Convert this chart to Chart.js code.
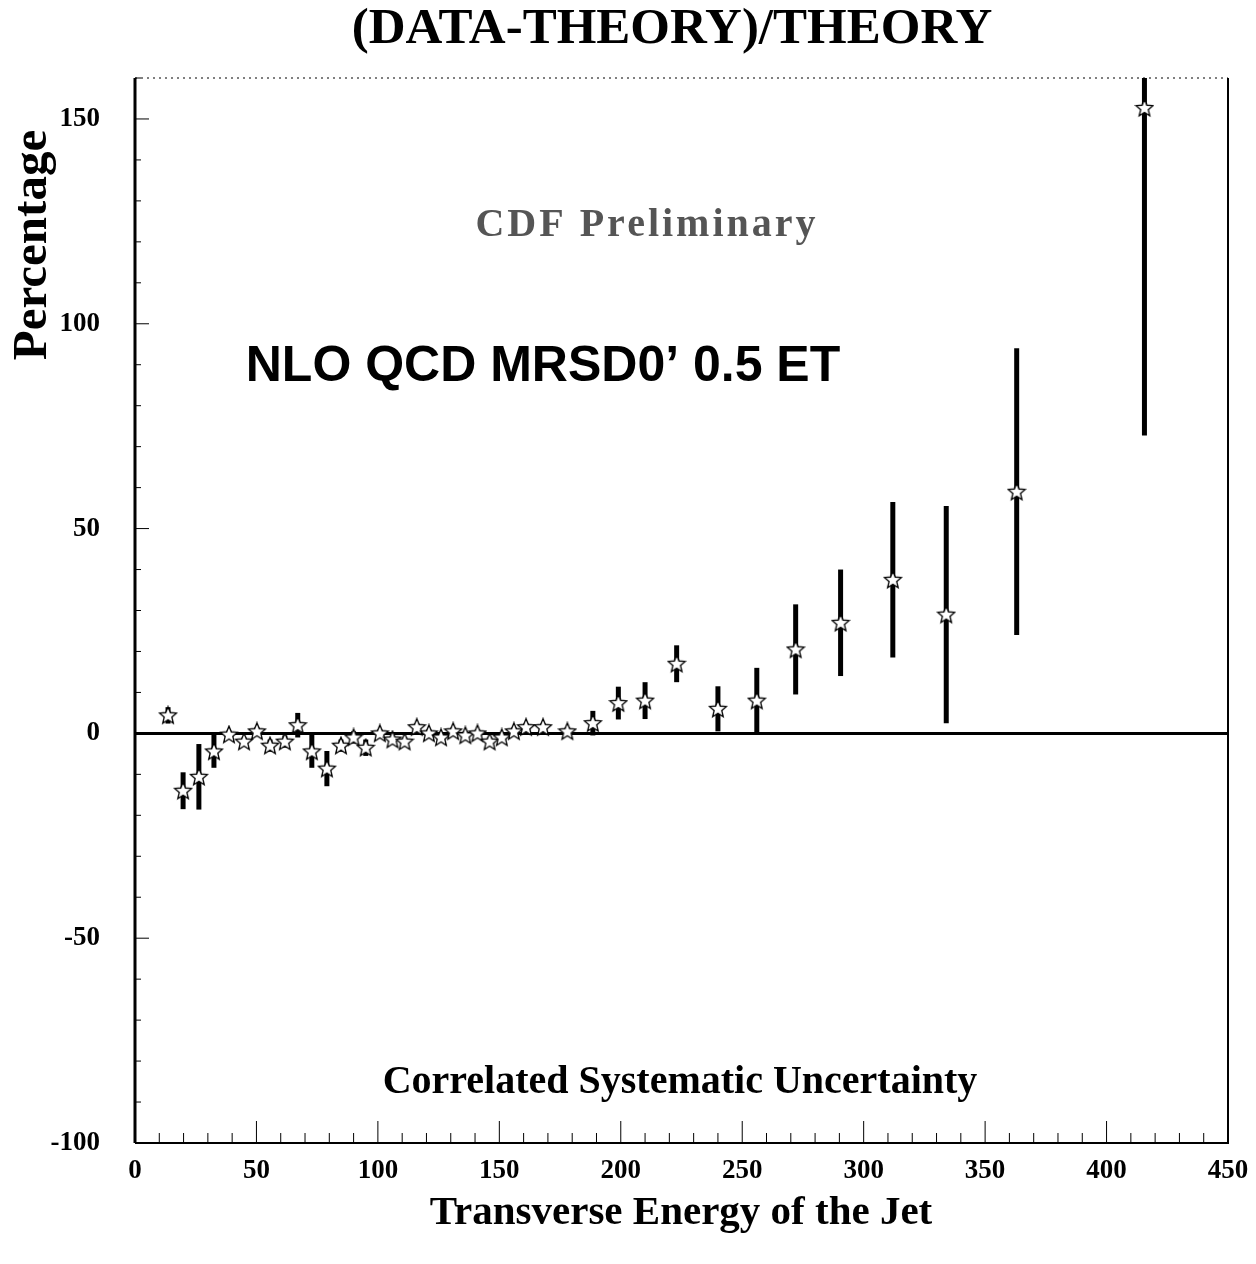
<!DOCTYPE html>
<html>
<head>
<meta charset="utf-8">
<script src="https://cdn.jsdelivr.net/npm/chart.js@4.4.0/dist/chart.umd.min.js"></script>
<style>
  html, body { margin: 0; padding: 0; background: #fff; }
  #wrap { width: 1256px; height: 1264px; }
</style>
</head>
<body>
<div id="wrap"><canvas id="grafico"></canvas></div>
<script>
// Energia transversa do jato (GeV) e desvio percentual (dados-teoria)/teoria
const etValues = [13.6, 19.8, 26.3, 32.5, 38.7, 44.9, 50.2, 55.6, 61.7, 67, 72.8, 79, 84.8, 90, 95,
  100.8, 106, 111, 116, 121, 126, 131, 136, 141, 146, 151, 156, 161, 168, 178,
  188.5, 199, 210, 223, 240, 256, 272, 290.5, 312, 334, 363, 415.6];
const pctValues = [4.4, -14, -10.6, -4.4, -0.3, -2, 0.5, -3, -2, 2, -4.4, -8.6, -3, -1, -3.5,
  0, -1.5, -2, 1.5, 0, -1, 0.5, -0.5, 0, -2, -1, 0.5, 1.5, 1.5, 0.5,
  2.5, 7.4, 8, 17, 6, 8, 20.5, 27, 37.5, 29, 59, 152.7];
const errValues = [2, 4.5, 8, 4, 1, 1, 1, 1.5, 1.5, 3, 4, 4.3, 1.5, 1.5, 2,
  1, 1, 1, 1, 1, 1, 1, 1, 1, 1, 1, 1, 1, 1, 1,
  3, 4, 4.5, 4.5, 5.5, 8, 11, 13, 19, 26.5, 35, 80];

const xTicks = [0, 50, 100, 150, 200, 250, 300, 350, 400, 450];
const yTicks = [-100, -50, 0, 50, 100, 150];

const serif = '"Liberation Serif", "DejaVu Serif", serif';

// Estrela de cinco pontas vazada usada como marcador
function criarEstrela() {
  const c = document.createElement('canvas');
  c.width = 20; c.height = 20;
  const g = c.getContext('2d');
  g.strokeStyle = '#000';
  g.lineWidth = 1.3;
  g.beginPath();
  for (let k = 0; k < 10; k++) {
    const r = k % 2 === 0 ? 9 : 4;
    const ang = -Math.PI / 2 + k * Math.PI / 5;
    const px = 10 + r * Math.cos(ang);
    const py = 10.5 + r * Math.sin(ang);
    if (k === 0) g.moveTo(px, py); else g.lineTo(px, py);
  }
  g.closePath();
  g.fillStyle = '#fff';
  g.fill();
  g.stroke();
  return c;
}

// Barras de erro, linha do zero, moldura e ticks internos
const pluginDesenho = {
  id: 'desenho',
  beforeDatasetsDraw(chart) {
    const { ctx, chartArea: a, scales: { x, y } } = chart;
    ctx.save();
    ctx.beginPath();
    ctx.rect(a.left, a.top, a.right - a.left, a.bottom - a.top);
    ctx.clip();
    // linha do zero
    ctx.strokeStyle = '#000';
    ctx.lineWidth = 3;
    ctx.beginPath();
    ctx.moveTo(a.left, y.getPixelForValue(0));
    ctx.lineTo(a.right, y.getPixelForValue(0));
    ctx.stroke();
    // barras de erro
    ctx.lineWidth = 5;
    etValues.forEach((et, i) => {
      const px = x.getPixelForValue(et);
      const top = y.getPixelForValue(pctValues[i] + errValues[i]);
      const bot = y.getPixelForValue(pctValues[i] - errValues[i]);
      ctx.beginPath();
      ctx.moveTo(px, top);
      ctx.lineTo(px, bot);
      ctx.stroke();
    });
    ctx.restore();

    ctx.save();
    ctx.strokeStyle = '#000';
    // moldura
    ctx.lineWidth = 3;
    ctx.beginPath();
    ctx.moveTo(a.left, a.top);
    ctx.lineTo(a.left, a.bottom);
    ctx.stroke();
    ctx.lineWidth = 2;
    ctx.beginPath();
    ctx.moveTo(a.left, a.bottom);
    ctx.lineTo(a.right, a.bottom);
    ctx.lineTo(a.right, a.top);
    ctx.stroke();
    ctx.lineWidth = 1;
    ctx.setLineDash([2, 4]);
    ctx.beginPath();
    ctx.moveTo(a.left, a.top);
    ctx.lineTo(a.right, a.top);
    ctx.stroke();
    ctx.setLineDash([]);
    // ticks do eixo x (para dentro)
    ctx.lineWidth = 1;
    for (let v = 0; v <= 450; v += 10) {
      const px = x.getPixelForValue(v);
      const len = v % 50 === 0 ? 22 : 10;
      ctx.beginPath();
      ctx.moveTo(px, a.bottom);
      ctx.lineTo(px, a.bottom - len);
      ctx.stroke();
    }
    // ticks do eixo y
    for (let v = -100; v <= 160; v += 10) {
      const py = y.getPixelForValue(v);
      const len = v % 50 === 0 ? 14 : 6;
      ctx.beginPath();
      ctx.moveTo(a.left, py);
      ctx.lineTo(a.left + len, py);
      ctx.stroke();
    }
    ctx.restore();
  },
  afterDraw(chart) {
    const { ctx } = chart;
    ctx.save();
    ctx.fillStyle = '#000';
    ctx.textAlign = 'center';
    ctx.textBaseline = 'middle';
    ctx.font = 'bold 51px ' + serif;
    ctx.fillText('(DATA-THEORY)/THEORY', 672, 30);
    ctx.font = 'bold 41px ' + serif;
    ctx.fillText('Transverse Energy of the Jet', 681, 1213);
    ctx.font = 'bold 40px ' + serif;
    ctx.fillText('Correlated Systematic Uncertainty', 680, 1083);
    ctx.fillStyle = '#555';
    ctx.font = 'bold 40px ' + serif;
    ctx.letterSpacing = '3px';
    ctx.fillText('CDF Preliminary', 647, 226);
    ctx.letterSpacing = '0px';
    ctx.fillStyle = '#000';
    ctx.font = 'bold 50px "Liberation Sans", Arial, sans-serif';
    ctx.fillText('NLO QCD MRSD0\u2019 0.5 ET', 543, 367);
    // título do eixo y
    ctx.translate(33, 245);
    ctx.rotate(-Math.PI / 2);
    ctx.font = 'bold 49px ' + serif;
    ctx.fillText('Percentage', 0, 0);
    ctx.restore();
  }
};

const ctxGrafico = document.getElementById('grafico').getContext('2d');
new Chart(ctxGrafico, {
  type: 'scatter',
  data: {
    datasets: [{
      data: etValues.map((et, i) => ({ x: et, y: pctValues[i] })),
      pointStyle: criarEstrela(),
      pointRadius: 9,
      showLine: false
    }]
  },
  plugins: [pluginDesenho],
  options: {
    responsive: true,
    maintainAspectRatio: false,
    animation: false,
    layout: { padding: { left: 0, top: 78, right: 28, bottom: 0 } },
    plugins: { legend: { display: false }, tooltip: { enabled: false }, title: { display: false } },
    scales: {
      x: {
        type: 'linear',
        min: 0,
        max: 450,
        border: { display: false },
        grid: { display: false },
        afterBuildTicks: s => { s.ticks = xTicks.map(v => ({ value: v })); },
        afterFit: s => { s.height = 121; },
        ticks: {
          color: '#000',
          padding: 4,
          maxRotation: 0,
          font: { family: serif, size: 27, weight: 'bold' }
        }
      },
      y: {
        min: -100,
        max: 160,
        border: { display: false },
        grid: { display: false },
        afterBuildTicks: s => { s.ticks = yTicks.map(v => ({ value: v })); },
        afterFit: s => { s.width = 135; },
        ticks: {
          color: '#000',
          padding: 27,
          font: { family: serif, size: 27, weight: 'bold' }
        }
      }
    }
  }
});
</script>
</body>
</html>
